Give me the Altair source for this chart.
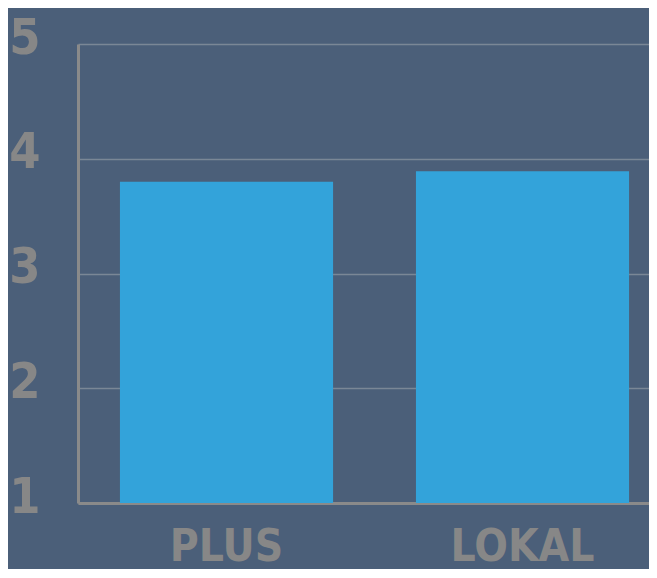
import altair as alt
import pandas as pd

categories = ["PLUS", "LOKAL"]
values = [3.80, 3.89]
y_ticks = [1, 2, 3, 4, 5]

df = pd.DataFrame({"cat": categories, "val": values, "base": [1] * len(categories)})

FONT = "DejaVu Sans Condensed"
TEXT = "#878787"

chart = alt.Chart(df).mark_bar(color="#33a3da").encode(
    x=alt.X(
        "cat:N",
        sort=categories,
        scale=alt.Scale(paddingInner=0.28, paddingOuter=0.1045, align=0.678),
        axis=alt.Axis(
            title=None, labelAngle=0, labelFont=FONT, labelFontSize=44,
            labelFontWeight="bold", labelColor=TEXT, labelPadding=22,
            labelBaseline="top", labelLimit=400, ticks=False,
            domainColor="#8a8a8a", domainWidth=3, grid=False,
        ),
    ),
    y=alt.Y(
        "val:Q",
        scale=alt.Scale(domain=[1, 5], zero=False, nice=False),
        axis=alt.Axis(
            title=None, values=y_ticks, labelFont=FONT, labelFontSize=50,
            labelFontWeight="bold", labelColor=TEXT, labelPadding=38,
            labelAlign="right", labelBaseline="middle", labelOffset=-6,
            labelLimit=200, ticks=False, domainColor="#8a8a8a", domainWidth=3,
            grid=True, gridColor="#7a8796", gridWidth=1.5, format="d",
        ),
    ),
    y2="base:Q",
).properties(
    width=571,
    height=459,
    autosize=alt.AutoSizeParams(type="none"),
    padding={"left": 70, "top": 36, "right": 0, "bottom": 66},
    background="#4b5f79",
).configure_view(stroke=None)

chart.save("out.html", embed_options={"renderer": "svg", "actions": False})
